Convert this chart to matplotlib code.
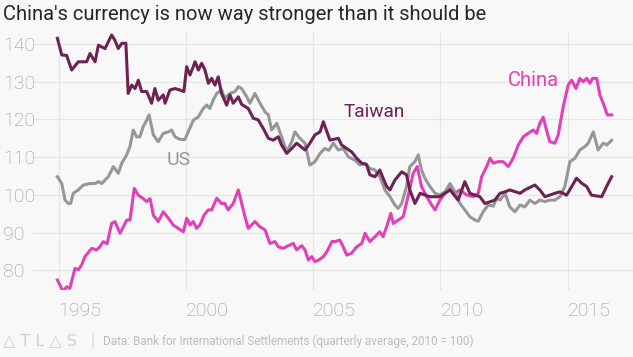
import matplotlib
matplotlib.use("Agg")
import matplotlib.pyplot as plt
import numpy as np

plt.rcParams['font.family'] = ['Roboto', 'DejaVu Sans']

# ---------------- data ----------------
taiwan_years = [1994.95, 1995.12, 1995.31, 1995.51, 1995.77, 1996.10, 1996.23, 1996.43, 1996.56, 1996.82,
                1997.08, 1997.21, 1997.34, 1997.48, 1997.64, 1997.73, 1997.87, 1998.00, 1998.13, 1998.26,
                1998.46, 1998.65, 1998.78, 1998.91, 1999.11, 1999.18, 1999.37, 1999.57, 1999.77, 1999.92,
                2000.03, 2000.16, 2000.36, 2000.49, 2000.62, 2000.75, 2000.88, 2001.01, 2001.14, 2001.27,
                2001.40, 2001.60, 2001.73, 2001.86, 2002.06, 2002.19, 2002.45, 2002.65, 2002.84, 2003.04,
                2003.24, 2003.43, 2003.63, 2003.76, 2003.96, 2004.16, 2004.35, 2004.68, 2004.87, 2005.07,
                2005.27, 2005.40, 2005.66, 2005.99, 2006.12, 2006.51, 2006.71, 2006.91, 2007.10, 2007.23,
                2007.43, 2007.62, 2007.75, 2007.89, 2008.02, 2008.21, 2008.48, 2008.67, 2008.80, 2009.00,
                2009.20, 2009.59, 2009.98, 2010.18, 2010.38, 2010.70, 2010.96, 2011.16, 2011.55, 2011.75,
                2012.14, 2012.34, 2012.54, 2012.73, 2013.13, 2013.32, 2013.71, 2013.91, 2014.11, 2014.50,
                2014.70, 2014.96, 2015.16, 2015.35, 2015.55, 2015.75, 2015.94, 2016.34, 2016.53, 2016.73]
taiwan_values = [141.5, 137.1, 137.0, 133.1, 135.3, 135.3, 137.5, 135.3, 139.7, 138.8,
                 142.4, 141.0, 138.8, 140.2, 140.2, 126.9, 129.1, 128.2, 130.4, 127.4,
                 127.4, 124.3, 128.2, 125.1, 126.5, 124.3, 127.8, 128.2, 127.8, 127.4,
                 134.0, 131.8, 135.3, 133.1, 134.9, 133.1, 129.6, 130.9, 129.1, 131.3,
                 126.9, 123.8, 126.5, 124.3, 126.0, 124.0, 122.9, 120.3, 119.9, 117.6,
                 115.0, 114.5, 115.4, 113.2, 111.0, 112.3, 113.7, 111.9, 113.7, 115.9,
                 116.7, 119.4, 114.5, 115.0, 113.2, 111.4, 109.7, 108.4, 108.0, 105.3,
                 104.8, 106.6, 104.4, 102.2, 101.3, 103.9, 106.1, 105.3, 101.3, 97.7,
                 100.4, 99.5, 99.5, 100.4, 101.3, 98.6, 103.5, 100.4, 99.5, 97.7,
                 98.6, 100.4, 100.8, 101.3, 100.4, 101.3, 102.6, 101.3, 99.5, 100.4,
                 100.8, 99.9, 102.2, 104.4, 103.1, 102.2, 99.9, 99.5, 102.2, 104.8]

us_years = [1994.95, 1995.12, 1995.25, 1995.38, 1995.47, 1995.57, 1995.77, 1995.97, 1996.23, 1996.43,
            1996.56, 1996.69, 1996.82, 1996.95, 1997.15, 1997.34, 1997.48, 1997.67, 1997.80, 1997.93,
            1998.06, 1998.19, 1998.32, 1998.46, 1998.55, 1998.72, 1998.91, 1999.11, 1999.31, 1999.44,
            1999.57, 1999.77, 1999.96, 2000.09, 2000.29, 2000.49, 2000.68, 2000.82, 2000.94, 2001.07,
            2001.21, 2001.40, 2001.53, 2001.73, 2001.93, 2002.06, 2002.19, 2002.39, 2002.52, 2002.71,
            2002.91, 2003.11, 2003.24, 2003.37, 2003.57, 2003.76, 2003.96, 2004.16, 2004.28, 2004.48,
            2004.68, 2004.87, 2005.07, 2005.27, 2005.46, 2005.62, 2005.79, 2005.99, 2006.18, 2006.38,
            2006.64, 2006.84, 2007.04, 2007.23, 2007.43, 2007.62, 2007.82, 2008.02, 2008.21, 2008.34,
            2008.48, 2008.67, 2008.80, 2009.00, 2009.13, 2009.26, 2009.39, 2009.59, 2009.79, 2009.98,
            2010.18, 2010.38, 2010.57, 2010.77, 2010.96, 2011.16, 2011.36, 2011.49, 2011.68, 2011.88,
            2012.08, 2012.21, 2012.34, 2012.54, 2012.73, 2012.93, 2013.13, 2013.32, 2013.52, 2013.71,
            2013.91, 2014.11, 2014.30, 2014.50, 2014.70, 2014.89, 2015.09, 2015.29, 2015.48, 2015.68,
            2015.81, 2016.01, 2016.20, 2016.40, 2016.54, 2016.73]
us_values = [104.8, 103.0, 98.6, 97.7, 97.7, 100.4, 101.3, 102.6, 103.0, 103.0,
             103.5, 103.0, 103.9, 104.8, 107.5, 105.7, 108.4, 110.6, 112.8, 117.2,
             115.4, 115.4, 118.1, 119.8, 121.2, 115.9, 114.1, 116.3, 116.7, 117.2,
             115.4, 114.7, 114.7, 116.7, 119.8, 120.7, 122.9, 123.8, 122.9, 125.1,
             126.9, 127.8, 125.6, 126.9, 127.4, 128.7, 128.2, 126.0, 124.3, 126.9,
             124.3, 122.0, 121.2, 117.2, 119.0, 115.4, 111.4, 114.1, 116.7, 115.0,
             113.7, 107.9, 108.8, 111.0, 112.3, 111.8, 113.7, 111.9, 112.3, 110.1,
             109.2, 107.9, 108.4, 107.0, 106.6, 104.8, 101.3, 99.5, 97.3, 96.4,
             97.7, 102.2, 107.5, 108.8, 110.6, 106.6, 104.4, 102.2, 100.4, 100.0,
             100.8, 103.0, 100.8, 97.7, 96.0, 94.2, 93.3, 93.0, 95.5, 97.3,
             97.0, 99.1, 98.6, 100.4, 96.8, 95.5, 97.3, 96.8, 98.6, 97.7,
             98.6, 98.2, 98.6, 98.6, 99.5, 102.2, 108.8, 109.7, 111.9, 112.8,
             113.7, 116.7, 111.9, 113.7, 113.2, 114.5]

china_years = [1994.95, 1995.18, 1995.31, 1995.44, 1995.64, 1995.77, 1995.90, 1996.03, 1996.30, 1996.49,
               1996.62, 1996.75, 1996.90, 1997.08, 1997.21, 1997.41, 1997.54, 1997.67, 1997.80, 1997.97,
               1998.13, 1998.32, 1998.46, 1998.59, 1998.72, 1998.91, 1999.11, 1999.31, 1999.50, 1999.70,
               1999.90, 2000.03, 2000.16, 2000.29, 2000.42, 2000.55, 2000.71, 2000.88, 2001.01, 2001.21,
               2001.40, 2001.53, 2001.66, 2001.86, 2002.06, 2002.19, 2002.32, 2002.45, 2002.71, 2002.91,
               2003.11, 2003.30, 2003.50, 2003.63, 2003.83, 2004.02, 2004.22, 2004.35, 2004.55, 2004.68,
               2004.81, 2004.94, 2005.07, 2005.22, 2005.40, 2005.54, 2005.74, 2005.86, 2006.05, 2006.18,
               2006.32, 2006.51, 2006.71, 2006.91, 2007.04, 2007.23, 2007.43, 2007.62, 2007.75, 2007.91,
               2008.05, 2008.15, 2008.34, 2008.54, 2008.74, 2008.93, 2009.09, 2009.26, 2009.46, 2009.66,
               2009.79, 2009.98, 2010.18, 2010.38, 2010.57, 2010.77, 2011.03, 2011.29, 2011.49, 2011.62,
               2011.82, 2011.95, 2012.08, 2012.27, 2012.47, 2012.67, 2012.86, 2013.06, 2013.26, 2013.45,
               2013.65, 2013.78, 2013.91, 2014.04, 2014.17, 2014.30, 2014.50, 2014.63, 2014.83, 2015.02,
               2015.16, 2015.33, 2015.48, 2015.61, 2015.75, 2015.88, 2015.98, 2016.14, 2016.27, 2016.40,
               2016.56, 2016.73]
china_values = [77.4, 74.3, 75.6, 75.2, 80.5, 80.1, 81.4, 83.6, 85.8, 85.4,
                86.2, 87.6, 87.0, 92.4, 92.9, 89.8, 91.5, 93.3, 93.3, 101.7,
                99.9, 99.0, 98.2, 99.0, 94.6, 92.9, 95.5, 93.8, 92.0, 91.1,
                90.2, 93.8, 92.0, 92.9, 91.1, 92.0, 94.6, 96.0, 96.0, 99.1,
                97.7, 97.7, 96.0, 97.7, 101.3, 97.7, 94.2, 91.1, 92.9, 91.5,
                90.7, 87.1, 87.6, 86.2, 85.8, 86.5, 87.1, 85.4, 86.5, 85.4,
                82.7, 83.6, 82.3, 82.7, 83.6, 84.9, 87.6, 87.6, 88.0, 86.2,
                84.0, 84.5, 86.2, 87.1, 89.8, 87.6, 88.9, 90.2, 88.9, 92.0,
                95.1, 92.4, 93.3, 94.2, 99.9, 105.7, 107.5, 102.2, 99.5, 97.3,
                96.0, 98.6, 100.4, 101.7, 100.4, 101.3, 100.0, 99.5, 100.4, 104.8,
                107.5, 109.7, 108.4, 108.8, 108.8, 107.5, 109.7, 113.2, 115.4, 116.3,
                117.2, 116.3, 119.0, 120.6, 117.2, 114.1, 113.7, 115.9, 123.4, 129.1,
                130.4, 128.2, 130.9, 130.0, 130.9, 129.6, 130.9, 130.9, 126.5, 124.3,
                121.2, 121.2]

series_names = ["China", "US", "Taiwan"]
x_ticks = [1995, 2000, 2005, 2010, 2015]
x_tick_labels = ["1995", "2000", "2005", "2010", "2015"]
y_ticks = [80, 90, 100, 110, 120, 130, 140]
y_tick_labels = ["80", "90", "100", "110", "120", "130", "140"]

# ---------------- styling ----------------
BG = "#f8f8f8"
C_CHINA = "#e040b8"
C_US = "#979797"
C_TAIWAN = "#6e2253"
GRID = "#e5e5e5"
TICK = "#999999"

W, H = 633, 357
fig = plt.figure(figsize=(W / 100, H / 100), dpi=100, facecolor=BG)
ax = fig.add_axes([33 / W, 67 / H, 1 - 33 / W, 258 / H], facecolor=BG)

ax.plot(china_years, china_values, color=C_CHINA, lw=2.2, solid_joinstyle="round", zorder=3)
ax.plot(us_years, us_values, color=C_US, lw=2.2, solid_joinstyle="round", zorder=4)
ax.plot(taiwan_years, taiwan_values, color=C_TAIWAN, lw=2.2, solid_joinstyle="round", zorder=5)

ax.set_xlim(1993.99, 2017.57)
ax.set_ylim(74.75, 143.2)

ax.set_xticks(x_ticks)
ax.set_xticklabels(x_tick_labels)
ax.set_yticks(y_ticks)
ax.set_yticklabels(y_tick_labels)
ax.tick_params(length=0, labelsize=14, labelcolor=TICK)
ax.tick_params(axis="x", pad=9)
ax.tick_params(axis="y", pad=21.5)
for lab in ax.get_xticklabels():
    lab.set_ha("left")
    lab.set_fontweight("light")
for lab in ax.get_yticklabels():
    lab.set_ha("left")
    lab.set_fontweight("light")

ax.grid(True, color=GRID, lw=0.8)
ax.set_axisbelow(True)
for s in ax.spines.values():
    s.set_visible(False)

# series labels
ax.text(1999.73, 109.2, series_names[1], color=C_US, fontsize=14, ha="center", va="center")
ax.text(2007.41, 122.1, series_names[2], color=C_TAIWAN, fontsize=13.7, ha="center", va="center")
ax.text(2013.64, 130.2, series_names[0], color=C_CHINA, fontsize=14.5, ha="center", va="center")

# title
fig.text(3 / W, 1 - 20 / H, "China's currency is now way stronger than it should be",
         fontsize=14.5, color="#262626", ha="left", va="baseline")

# footer
fig.text(3 / W, 1 - 341 / H, "\u25B3 T L \u25B3 S", fontsize=11.5, color="#cfcfcf",
         ha="left", va="center", family="DejaVu Sans")
fig.text(93 / W, 1 - 341 / H, "|", fontsize=13, color="#d8d8d8", ha="center", va="center")
fig.text(103 / W, 1 - 341 / H,
         "Data: Bank for International Settlements (quarterly average, 2010 = 100)",
         fontsize=8.5, color="#bdbdbd", ha="left", va="center")

fig.savefig("out.png", dpi=100, facecolor=BG)
